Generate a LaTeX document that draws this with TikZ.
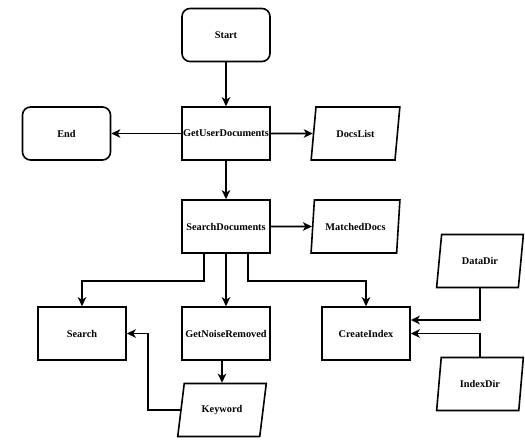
\documentclass[tikz,border=0pt]{standalone}
\usepackage{fontspec}
\setmainfont{Liberation Serif}
\usetikzlibrary{shapes.geometric,arrows.meta}
\begin{document}
\begin{tikzpicture}[x=1pt,y=-1pt, line width=1.6pt,
  every node/.style={font=\bfseries\fontsize{10.3}{12}\selectfont, inner sep=1pt},
  box/.style={draw, line width=1.6pt, minimum width=88pt, minimum height=53pt},
  term/.style={box, rounded corners=8pt},
  para/.style={draw, line width=1.6pt, trapezium, trapezium left angle=75, trapezium right angle=105,
    trapezium stretches=true, minimum width=89pt, minimum height=53pt},
  arr/.style={line width=1.6pt, -{Stealth[length=9pt,width=8.5pt,inset=2.5pt]}}]
\useasboundingbox (0,0) rectangle (525,441);
\node[term] (start) at (226,35) {Start};
\node[box] (gud) at (226,133.5) {GetUserDocuments};
\node[term] (end) at (66.5,133.5) {End};
\node[para] (docs) at (355.5,133.5) {DocsList};
\node[box] (sd) at (226,226.5) {SearchDocuments};
\node[para] (matched) at (355.5,226.5) {MatchedDocs};
\node[box] (search) at (82,333.5) {Search};
\node[box] (gnr) at (226,333.5) {GetNoiseRemoved};
\node[box] (ci) at (366,333.5) {CreateIndex};
\node[para, trapezium left angle=72, trapezium right angle=108] (kw) at (222,410) {Keyword};
\node[para, minimum width=87pt] (data) at (480,261) {DataDir};
\node[para, minimum width=87pt] (index) at (480,384) {IndexDir};

\draw[arr] (start) -- (gud);
\draw[arr] (gud) -- (end);
\draw[arr] (gud) -- (docs);
\draw[arr] (gud) -- (sd);
\draw[arr] (sd) -- (matched);
\draw[arr] ([xshift=-22pt]sd.south) -- ++(0,27) -| (search.north);
\draw[arr] (sd) -- (gnr);
\draw[arr] ([xshift=22pt]sd.south) -- ++(0,27) -| (ci.north);
\draw[arr] (kw.north |- gnr.south) -- (kw.north);
\draw[arr] (kw.west) -- ++(-32,0) |- (search.east);
\draw[arr] (data.south) |- ([yshift=13.5pt]ci.east);
\draw[arr] (index.north) |- (ci.east);
\end{tikzpicture}
\end{document}
